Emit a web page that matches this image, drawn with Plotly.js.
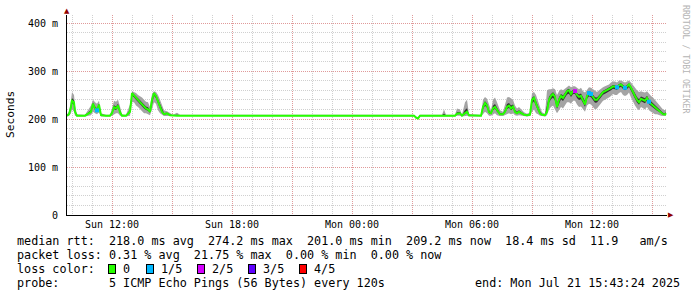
<!DOCTYPE html>
<html>
<head>
<meta charset="utf-8">
<script src="https://cdn.plot.ly/plotly-3.0.1.min.js"></script>
<style>
html,body{margin:0;padding:0;background:#fff;}
#chart{width:697px;height:297px;}
</style>
</head>
<body>
<div id="chart"></div>
<script>
// ---- data (times: "day HH:MM", July 2025) ----
const times = [
"20 09:45","20 09:51","20 09:57","20 10:00","20 10:06","20 10:09","20 10:15","20 10:39","20 10:57","20 11:03",
"20 11:09","20 11:15","20 11:21","20 11:27","20 11:42","20 11:54","20 12:00","20 12:06","20 12:12","20 12:18",
"20 12:24","20 12:30","20 12:42","20 12:54","20 13:00","20 13:06","20 13:12","20 13:18","20 13:24","20 13:30",
"20 13:36","20 13:42","20 13:48","20 13:54","20 14:00","20 14:06","20 14:12","20 14:18","20 14:24","20 14:30",
"20 14:36","20 14:45","20 14:54","20 15:03","20 15:15","20 15:24","20 17:54","20 20:24","20 22:54","21 01:24",
"21 03:06","21 03:12","21 03:18","21 03:24","21 04:00","21 04:30","21 04:36","21 04:42","21 05:09","21 05:15",
"21 05:24","21 05:30","21 05:39","21 05:45","21 05:51","21 06:09","21 06:27","21 06:33","21 06:39","21 06:45",
"21 06:51","21 06:57","21 07:03","21 07:09","21 07:15","21 07:24","21 07:33","21 07:39","21 07:45","21 07:51",
"21 07:57","21 08:03","21 08:09","21 08:15","21 08:21","21 08:27","21 08:36","21 08:45","21 08:54","21 09:00",
"21 09:06","21 09:12","21 09:18","21 09:24","21 09:30","21 09:39","21 09:45","21 09:51","21 09:57","21 10:03",
"21 10:09","21 10:15","21 10:21","21 10:27","21 10:33","21 10:39","21 10:45","21 10:51","21 10:57","21 11:03",
"21 11:09","21 11:15","21 11:21","21 11:27","21 11:33","21 11:39","21 11:45","21 11:51","21 11:57","21 12:03",
"21 12:09","21 12:15","21 12:21","21 12:27","21 12:33","21 12:39","21 12:45","21 12:51","21 12:57","21 13:03",
"21 13:09","21 13:15","21 13:21","21 13:27","21 13:33","21 13:39","21 13:45","21 13:51","21 13:57","21 14:03",
"21 14:09","21 14:15","21 14:21","21 14:27","21 14:33","21 14:39","21 14:45","21 14:51","21 14:57","21 15:03",
"21 15:09","21 15:15","21 15:21","21 15:27","21 15:33","21 15:39","21 15:42"
];
// median rtt (ms)
const median = [
207,210,225,238,235,215,207,207,215,232,
222,218,230,208,207,207,212,225,222,228,
214,207,207,215,254,250,245,240,235,230,
226,222,220,215,240,254,248,236,225,215,
210,212,208,207,207,207,207,207,207,207,
207,203,201,207,207,207,207,207,207,211,
212,207,212,215,208,207,207,225,233,228,
214,212,222,225,218,210,210,215,225,228,
222,226,215,212,215,212,209,208,209,240,
244,232,220,212,209,208,215,240,248,252,
246,225,240,248,244,250,258,260,252,258,
258,250,246,248,240,230,248,254,252,246,
240,240,246,252,256,258,260,262,265,268,
267,266,270,272,268,265,268,272,265,255,
248,240,235,242,240,238,244,236,232,228,
224,220,218,214,210,209,212
];
// smoke: lowest / highest ping (ms)
const smokeLo = [
205,206,212,220,215,207,205,205,208,215,
212,210,214,205,205,205,207,210,212,212,
207,205,205,207,235,235,228,225,220,215,
212,212,210,208,220,235,232,218,212,208,
206,206,206,205,205,205,205,205,205,205,
205,201,200,205,205,205,205,205,205,207,
207,205,207,207,205,205,205,210,215,212,
207,207,210,212,208,206,206,208,210,212,
210,212,208,207,208,207,206,205,206,215,
220,212,210,207,206,205,208,220,225,228,
220,212,218,225,222,228,235,235,232,238,
238,230,225,226,220,215,228,232,230,225,
220,222,228,232,238,240,242,245,248,252,
250,250,254,256,250,248,250,255,245,235,
228,222,218,225,222,220,225,218,215,212,
210,210,208,207,206,206,207
];
const smokeHi = [
210,215,240,256,250,228,210,209,228,240,
235,232,238,212,209,209,222,238,236,240,
226,210,209,230,258,256,254,250,248,245,
240,236,235,225,252,258,256,250,240,230,
218,216,212,209,213,209,209,209,209,209,
209,205,204,209,209,209,220,209,209,222,
220,209,235,240,210,209,209,240,246,242,
228,218,240,245,235,218,215,230,245,246,
242,240,228,222,225,220,214,211,214,254,
256,250,235,225,214,211,260,262,262,264,
262,250,258,262,260,264,268,270,266,268,
268,264,262,265,258,255,262,266,265,262,
258,256,260,264,266,268,270,272,276,278,
278,276,280,280,278,276,278,280,276,270,
266,260,256,258,256,255,258,252,248,245,
240,236,230,226,220,218,220
];
// packet loss per point, in fifths (0..4)
const lossFifths = [
0,0,0,0,0,0,0,0,0,0,
0,1,0,0,0,0,0,0,0,0,
0,0,0,0,0,0,0,0,0,0,
0,0,0,0,0,0,0,0,0,0,
0,0,0,0,0,0,0,0,0,0,
0,0,0,0,0,0,0,0,0,0,
0,0,0,0,0,0,0,0,0,0,
0,0,0,0,0,0,0,0,0,0,
0,0,0,0,0,0,0,0,0,0,
0,0,0,0,0,0,0,0,0,0,
0,0,0,0,0,0,0,0,0,0,
2,0,0,0,0,0,0,1,1,0,
0,0,0,0,0,0,0,0,0,0,
0,1,0,0,0,1,0,0,0,0,
0,0,0,0,0,0,0,1,0,0,
0,0,0,0,0,0,0
];
const lossLabels = ["0","1/5","2/5","3/5","4/5"];
const lossColors = ["#26ff00","#00b8ff","#d400ff","#5e00ff","#ff0000"];
const yTickVals = [0,100,200,300,400];
const yTickText = ["0","100 m","200 m","300 m","400 m"];

// ---- build ----
const X = times.map(t => "2025-07-" + t.slice(0,2) + " " + t.slice(3) + ":00");
const innerLo = median.map((m,i) => m - (m - smokeLo[i]) * 0.3);
const innerHi = median.map((m,i) => m + (smokeHi[i] - m) * 0.3);

const lx = [], ly = [], lc = [];
lossFifths.forEach((l,i) => { if (l > 0) { lx.push(X[i]); ly.push(median[i]); lc.push(lossColors[l]); } });

const traces = [
  {x:X, y:smokeLo, mode:'lines', line:{width:0, color:'rgba(0,0,0,0)'}, hoverinfo:'skip', showlegend:false},
  {x:X, y:smokeHi, mode:'lines', line:{width:0, color:'rgba(0,0,0,0)'}, fill:'tonexty', fillcolor:'#a4a4a4', hoverinfo:'skip', showlegend:false},
  {x:X, y:innerLo, mode:'lines', line:{width:0, color:'rgba(0,0,0,0)'}, hoverinfo:'skip', showlegend:false},
  {x:X, y:innerHi, mode:'lines', line:{width:0, color:'rgba(0,0,0,0)'}, fill:'tonexty', fillcolor:'#303030', hoverinfo:'skip', showlegend:false},
  {x:X, y:median, mode:'lines', line:{width:2, color:lossColors[0]}, showlegend:false},
  {x:lx, y:ly, mode:'markers', marker:{symbol:'square', size:4, color:lc}, showlegend:false}
];

const L = 67, R = 667, T = 15, B = 215;
const px = v => (v - L) / (R - L);
const py = v => (B - v) / (B - T);
const nb = s => s.replace(/ /g, '\u00a0');
const MONO = 'DejaVu Sans Mono';

const textLines = [
  {t:"median rtt:  218.0 ms avg  274.2 ms max  201.0 ms min  209.2 ms now  18.4 ms sd  11.9   am/s", x:16, y:241},
  {t:"packet loss: 0.31 % avg  21.75 % max  0.00 % min  0.00 % now", x:16, y:255},
  {t:"loss color:", x:16, y:269},
  {t:"probe:       5 ICMP Echo Pings (56 Bytes) every 120s", x:16, y:283}
];
const annotations = textLines.map(o => ({
  text: nb(o.t), xref:'paper', yref:'paper', x:px(o.x), y:py(o.y),
  xanchor:'left', yanchor:'middle', showarrow:false, borderpad:0,
  font:{family:MONO, size:11.75, color:'#000'}
}));
annotations.push({text:nb("end: Mon Jul 21 15:43:24 2025"), xref:'paper', yref:'paper', x:px(681), y:py(283),
  xanchor:'right', yanchor:'middle', showarrow:false, borderpad:0, font:{family:MONO, size:11.75, color:'#000'}});

const boxX = [108, 146, 197, 248, 299];
const labX = [122, 160, 211, 262, 313];
lossLabels.forEach((lab,i) => {
  annotations.push({text:'\u00a0', xref:'paper', yref:'paper', x:px(boxX[i]), y:py(269), xanchor:'left', yanchor:'middle',
    showarrow:false, width:6, height:8, bgcolor:lossColors[i], bordercolor:'#000', borderwidth:1, borderpad:0, font:{size:6}});
  annotations.push({text:lab, xref:'paper', yref:'paper', x:px(labX[i]), y:py(269), xanchor:'left', yanchor:'middle',
    showarrow:false, borderpad:0, font:{family:MONO, size:11.75, color:'#000'}});
});
// y-axis title
annotations.push({text:'Seconds', xref:'paper', yref:'paper', x:px(10), y:py(115), textangle:-90,
  xanchor:'center', yanchor:'middle', showarrow:false, font:{family:MONO, size:11.2, color:'#000'}});
// watermark
annotations.push({text:nb('RRDTOOL / TOBI OETIKER'), xref:'paper', yref:'paper', x:px(686), y:py(59), textangle:90,
  xanchor:'center', yanchor:'middle', showarrow:false, font:{family:MONO, size:8.2, color:'#b4b4b4'}});
// axis arrows
annotations.push({text:'▲', xref:'paper', yref:'paper', x:px(67), y:py(11), xanchor:'center', yanchor:'middle',
  showarrow:false, font:{family:'DejaVu Sans', size:7, color:'#900000'}});
annotations.push({text:'▶', xref:'paper', yref:'paper', x:px(671), y:py(215), xanchor:'center', yanchor:'middle',
  showarrow:false, font:{family:'DejaVu Sans', size:7, color:'#900000'}});

const majorGrid = '#e09a9a', minorGrid = '#d0d0d0';
const layout = {
  width:697, height:297,
  margin:{l:67, r:30, t:15, b:82, pad:0},
  paper_bgcolor:'#ffffff', plot_bgcolor:'#ffffff',
  font:{family:MONO, size:10, color:'#000'},
  showlegend:false,
  xaxis:{
    type:'date', range:['2025-07-20 09:45:00','2025-07-21 15:45:00'],
    tick0:'2025-07-20 00:00:00', dtick:3*3600000, ticklabelstep:2, tickformat:'%a %H:%M',
    showgrid:true, gridcolor:majorGrid, griddash:'1px,1px', gridwidth:1,
    minor:{dtick:3600000, tick0:'2025-07-20 00:00:00', showgrid:true, gridcolor:minorGrid, griddash:'1px,1px', gridwidth:1},
    showline:true, linecolor:'#000', linewidth:1, zeroline:false, ticks:'',
    tickfont:{family:MONO, size:10, color:'#000'}, fixedrange:true
  },
  yaxis:{
    range:[0, 416.67], tickmode:'array', tickvals:yTickVals, ticktext:yTickText,
    showgrid:true, gridcolor:majorGrid, griddash:'1px,1px', gridwidth:1,
    minor:{tickmode:'linear', tick0:0, dtick:20, showgrid:true, gridcolor:minorGrid, griddash:'1px,1px', gridwidth:1},
    showline:true, linecolor:'#000', linewidth:1, zeroline:false, ticks:'', ticklabelstandoff:6,
    tickfont:{family:MONO, size:10, color:'#000'}, fixedrange:true
  },
  annotations:annotations
};

Plotly.newPlot('chart', traces, layout, {staticPlot:true, displayModeBar:false});
</script>
</body>
</html>
